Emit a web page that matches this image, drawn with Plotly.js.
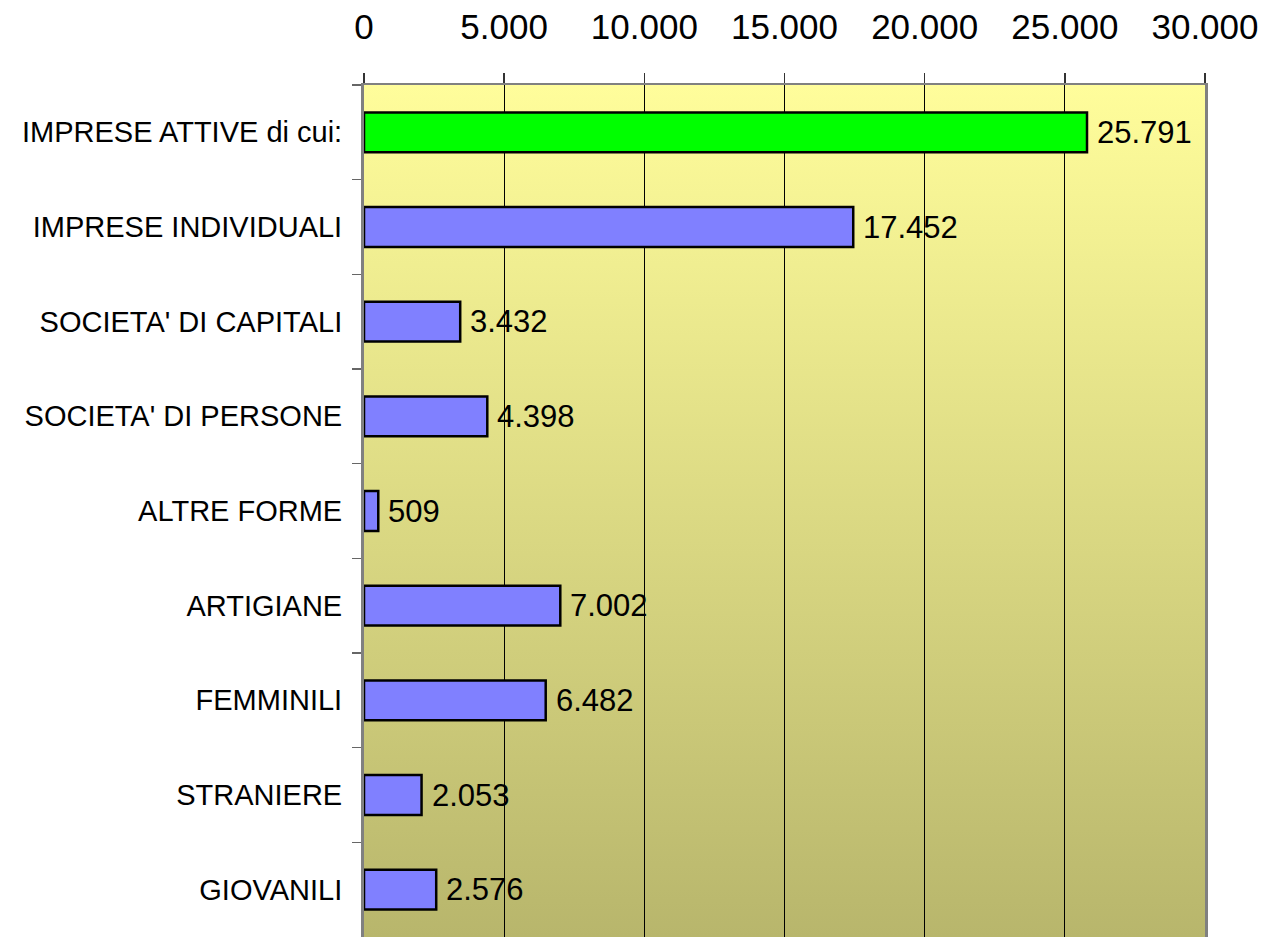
<!DOCTYPE html>
<html>
<head>
<meta charset="utf-8">
<script src="https://cdn.plot.ly/plotly-3.0.1.min.js"></script>
<style>
  body { margin: 0; background: #fff; }
  #graph { width: 1265px; height: 937px; }
</style>
</head>
<body>
<div id="graph"></div>
<script>
// categories, top to bottom
const categories = [
    "IMPRESE ATTIVE di cui:",
    "IMPRESE INDIVIDUALI",
    "SOCIETA' DI CAPITALI",
    "SOCIETA' DI PERSONE",
    "ALTRE FORME",
    "ARTIGIANE",
    "FEMMINILI",
    "STRANIERE",
    "GIOVANILI"
];
const values = [25791, 17452, 3432, 4398, 509, 7002, 6482, 2053, 2576];
const tickValues = [0, 5000, 10000, 15000, 20000, 25000, 30000];

// italian style thousands
function fmt(v) {
    return String(v).replace(/\B(?=(\d{3})+(?!\d))/g, '.');
}

const barColors = values.map((v, i) => i === 0 ? '#00ff00' : '#8080ff');

const trace = {
    type: 'bar',
    orientation: 'h',
    x: values,
    y: categories,
    width: 0.42,
    marker: { color: barColors, line: { color: '#000', width: 2.5 } },
    hoverinfo: 'none'
};

// value labels to the right of each bar
const annotations = values.map((v, i) => ({
    x: v,
    y: categories[i],
    xref: 'x',
    yref: 'y',
    text: fmt(v),
    showarrow: false,
    xanchor: 'left',
    xshift: 8,
    font: { family: 'Liberation Sans, Arial, sans-serif', size: 31, color: '#000' }
}));

// yellow -> olive background gradient
const svg = '<svg xmlns="http://www.w3.org/2000/svg" width="100" height="100" preserveAspectRatio="none">' +
    '<defs><linearGradient id="g" x1="0" y1="0" x2="0" y2="1">' +
    '<stop offset="0" stop-color="#fffd9b"/><stop offset="1" stop-color="#b8b66c"/>' +
    '</linearGradient></defs><rect width="100" height="100" fill="url(#g)"/></svg>';

const layout = {
    width: 1265,
    height: 937,
    margin: { l: 364, r: 60, t: 85, b: 0, pad: 0 },
    paper_bgcolor: '#fff',
    plot_bgcolor: 'rgba(0,0,0,0)',
    separators: ',.',
    showlegend: false,
    font: { family: 'Liberation Sans, Arial, sans-serif', color: '#000' },
    xaxis: {
        side: 'top',
        range: [0, 30000],
        tickvals: tickValues,
        ticktext: tickValues.map(fmt),
        ticks: 'outside',
        ticklen: 10,
        tickcolor: '#333',
        tickwidth: 1.5,
        ticklabelstandoff: 20,
        tickfont: { size: 35 },
        showgrid: true,
        gridcolor: '#000',
        gridwidth: 1,
        zeroline: false,
        showline: true,
        linecolor: '#808080',
        linewidth: 2,
        fixedrange: true
    },
    yaxis: {
        type: 'category',
        autorange: 'reversed',
        ticks: 'outside',
        tickson: 'boundaries',
        ticklen: 9,
        tickcolor: '#666',
        tickwidth: 1.5,
        ticklabelstandoff: 13,
        tickfont: { size: 29 },
        showgrid: false,
        zeroline: false,
        showline: true,
        mirror: true,
        linecolor: '#808080',
        linewidth: 3,
        fixedrange: true
    },
    images: [{
        source: 'data:image/svg+xml;charset=utf-8,' + encodeURIComponent(svg),
        xref: 'paper',
        yref: 'paper',
        x: 0,
        y: 1,
        sizex: 1,
        sizey: 1,
        sizing: 'stretch',
        xanchor: 'left',
        yanchor: 'top',
        layer: 'below'
    }],
    annotations: annotations
};

Plotly.newPlot('graph', [trace], layout, { displayModeBar: false, staticPlot: true });
</script>
</body>
</html>
